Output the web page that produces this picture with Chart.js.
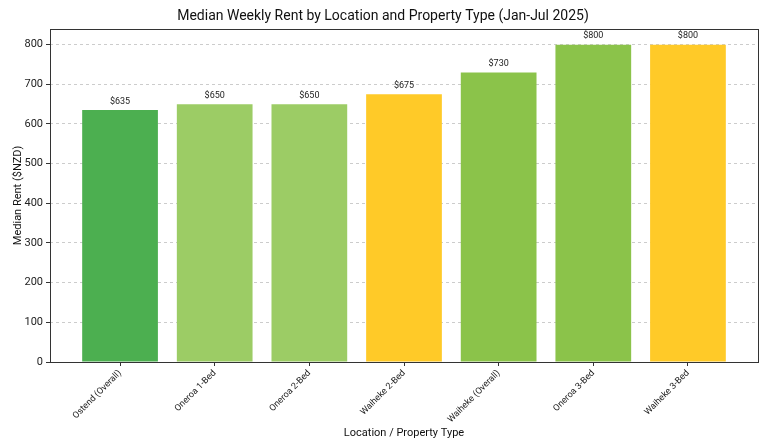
<!DOCTYPE html>
<html>
<head>
<meta charset="utf-8">
<script src="https://cdn.jsdelivr.net/npm/chart.js"></script>
<style>
  html, body { margin: 0; padding: 0; background: #fff; }
  #wrap { width: 768px; height: 448px; }
</style>
</head>
<body>
<div id="wrap"><canvas id="chart" width="768" height="448"></canvas></div>
<script>
const categories = ['Ostend (Overall)', 'Oneroa 1-Bed', 'Oneroa 2-Bed', 'Waiheke 2-Bed', 'Waiheke (Overall)', 'Oneroa 3-Bed', 'Waiheke 3-Bed'];
const rents = [635, 650, 650, 675, 730, 800, 800];
const barColors = ['#4CAF50', '#9CCC65', '#9CCC65', '#FFCA28', '#8BC34A', '#8BC34A', '#FFCA28'];
const yTicks = [0, 100, 200, 300, 400, 500, 600, 700, 800];

const FONT = 'Roboto, "Open Sans", sans-serif';

// frame around the plot area, like the reference
const boxPlugin = {
    id: 'box',
    afterDraw(chart) {
        const a = chart.chartArea;
        const ctx = chart.ctx;
        ctx.save();
        ctx.strokeStyle = '#333';
        ctx.lineWidth = 1;
        ctx.strokeRect(Math.round(a.left) + 0.5, Math.round(a.top) + 0.5,
            Math.round(a.right - a.left), Math.round(a.bottom - a.top));
        ctx.restore();
    }
};

// "$635" style labels over the bars
const valueLabels = {
    id: 'valueLabels',
    afterDatasetsDraw(chart) {
        const ctx = chart.ctx;
        const meta = chart.getDatasetMeta(0);
        ctx.save();
        ctx.font = '9px ' + FONT;
        ctx.fillStyle = '#222';
        ctx.textAlign = 'center';
        ctx.textBaseline = 'bottom';
        meta.data.forEach((bar, i) => {
            ctx.fillText('$' + rents[i], bar.x, bar.y - 4);
        });
        ctx.restore();
    }
};

new Chart(document.getElementById('chart'), {
    type: 'bar',
    data: {
        datasets: [{
            data: rents.map((v, i) => ({ x: i, y: v })),
            backgroundColor: barColors,
            borderWidth: 0,
            categoryPercentage: 1,
            barPercentage: 0.8
        }]
    },
    options: {
        responsive: false,
        animation: false,
        layout: { padding: { top: 0, right: 10, bottom: 8, left: 8 } },
        plugins: {
            legend: { display: false },
            tooltip: { enabled: false },
            title: {
                display: true,
                text: 'Median Weekly Rent by Location and Property Type (Jan-Jul 2025)',
                color: '#111',
                font: { family: FONT, size: 14, weight: 'normal' },
                padding: { top: 8, bottom: 4 }
            }
        },
        scales: {
            x: {
                type: 'linear',
                offset: false,
                min: -0.74,
                max: 6.74,
                afterBuildTicks: s => { s.ticks = categories.map((c, i) => ({ value: i })); },
                afterFit: s => { s.height = 78; },
                ticks: {
                    callback: (v) => categories[v],
                    maxRotation: 45,
                    minRotation: 45,
                    autoSkip: false,
                    color: '#222',
                    font: { family: FONT, size: 9 },
                    padding: 2
                },
                grid: { drawOnChartArea: false, drawTicks: true, tickLength: 4, color: '#333', offset: false },
                border: { display: false },
                title: {
                    display: true,
                    text: 'Location / Property Type',
                    color: '#111',
                    font: { family: FONT, size: 11 },
                    padding: { top: 4, bottom: 0 }
                }
            },
            y: {
                min: 0,
                max: 840,
                afterBuildTicks: s => { s.ticks = yTicks.map(v => ({ value: v })); },
                afterFit: s => { s.width = 42; },
                ticks: {
                    color: '#222',
                    font: { family: FONT, size: 11 },
                    padding: 3
                },
                grid: {
                    color: '#ccc',
                    borderDash: [3, 3],
                    tickColor: '#333',
                    tickBorderDash: [],
                    tickLength: 4
                },
                border: { display: false, dash: [3, 3] },
                title: {
                    display: true,
                    text: 'Median Rent ($NZD)',
                    color: '#111',
                    font: { family: FONT, size: 11 },
                    padding: { top: 4, bottom: 0 }
                }
            }
        }
    },
    plugins: [boxPlugin, valueLabels]
});
</script>
</body>
</html>
